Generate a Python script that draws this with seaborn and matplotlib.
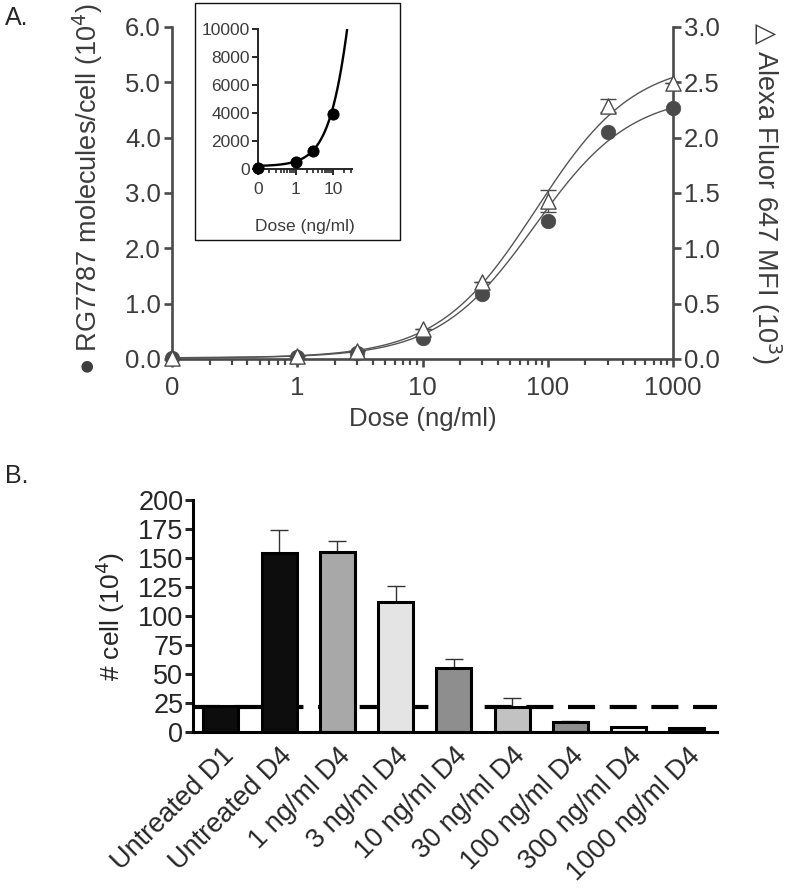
import numpy as np
import pandas as pd
import matplotlib
matplotlib.use('Agg')
import matplotlib.pyplot as plt
import seaborn as sns
from matplotlib.patches import Rectangle
from matplotlib.ticker import LogLocator, NullFormatter

# ---- panel A data ----
dose = [0.1, 1, 3, 10, 30, 100, 300, 1000]          # "0" dose drawn at 0.1 on the log axis
dose_ticks = [0.1, 1, 10, 100, 1000]
dose_labels = ['0', '1', '10', '100', '1000']
molecules = [0.02, 0.04, 0.10, 0.38, 1.17, 2.49, 4.11, 4.53]   # x10^4, filled circles
mfi = [0.01, 0.03, 0.07, 0.27, 0.70, 1.43, 2.29, 2.49]         # x10^3, open triangles
mfi_err = [0, 0, 0, 0, 0, 0.10, 0.06, 0]

# 4-parameter logistic fits: bottom, top, ec50, hill
fit_molecules = [0.02, 4.8, 79, 1.13]
fit_mfi = [0.01, 2.7, 81, 1.11]

# inset (raw molecules/cell, low doses)
inset_dose = [0.1, 1, 3, 10]
inset_molecules = [50, 480, 1300, 3900]
inset_ticks = [0.1, 1, 10]
inset_labels = ['0', '1', '10']

# ---- panel B data ----
groups = ['Untreated D1', 'Untreated D4', '1 ng/ml D4', '3 ng/ml D4', '10 ng/ml D4',
          '30 ng/ml D4', '100 ng/ml D4', '300 ng/ml D4', '1000 ng/ml D4']
cells = [22, 154, 155, 112, 55, 21, 8, 4.3, 3.2]
cells_err = [0, 20, 10, 14, 7.5, 8, 1.5, 0, 0]
bar_colors = ['#0d0d0d', '#0d0d0d', '#a8a8a8', '#e4e4e4', '#8e8e8e',
              '#c2c2c2', '#8e8e8e', '#f4f4f4', '#0d0d0d']
baseline = 21


def logistic(x, p):
    bottom, top, ec50, hill = p
    return bottom + (top - bottom) / (1 + (ec50 / x) ** hill)


sns.set_style('ticks')
plt.rcParams['font.family'] = ['Liberation Sans', 'DejaVu Sans']

fig = plt.figure(figsize=(7.87, 8.9), dpi=100)
W, H = 787, 890


def box(l, t, r, b):
    return [l / W, 1 - b / H, (r - l) / W, (b - t) / H]


grey = '#4a4a4a'
txt = '#3c3c3c'

# ---------------- panel A ----------------
ax = fig.add_axes(box(172, 27, 673, 359))
ax2 = ax.twinx()
ax.set_xscale('log')

grid = np.logspace(-1, 3, 400)
sns.lineplot(x=grid, y=logistic(grid, fit_molecules), ax=ax, color='#555555', lw=1)
sns.lineplot(x=grid, y=logistic(grid, fit_mfi), ax=ax2, color='#555555', lw=1)

sns.scatterplot(x=dose, y=molecules, ax=ax, color=grey, s=110, edgecolor=grey,
                linewidth=0.5, zorder=3, clip_on=False)
ax2.errorbar(dose, mfi, yerr=mfi_err, fmt='none', ecolor=grey, elinewidth=1,
             capsize=6, capthick=1, zorder=3)
sns.scatterplot(x=dose, y=mfi, ax=ax2, marker='^', color='white', s=120,
                edgecolor=grey, linewidth=1, zorder=4, clip_on=False)

ax.set_xlim(0.1, 1000)
ax.set_ylim(0, 6)
ax2.set_ylim(0, 3)
ax.set_xticks(dose_ticks)
ax.set_xticklabels(dose_labels)
ax.xaxis.set_minor_locator(LogLocator(base=10, subs=np.arange(2, 10)))
ax.xaxis.set_minor_formatter(NullFormatter())
ax.set_yticks(np.arange(0, 6.1, 1))
ax.set_yticklabels([f'{v:.1f}' for v in np.arange(0, 6.1, 1)])
ax2.set_yticks(np.arange(0, 3.1, 0.5))
ax2.set_yticklabels([f'{v:.1f}' for v in np.arange(0, 3.1, 0.5)])

for a in (ax, ax2):
    for s in a.spines.values():
        s.set_color(grey)
        s.set_linewidth(1.9)
    a.spines['top'].set_visible(False)
    a.tick_params(which='major', length=6, width=1.9, color=grey,
                  labelsize=18.5, labelcolor=txt, pad=2)
    a.tick_params(which='minor', length=4, width=1.6, color=grey)
ax.tick_params(axis='x', pad=6)
ax.spines['right'].set_visible(False)
ax2.spines['left'].set_visible(False)
ax2.spines['bottom'].set_visible(False)
ax.set_xlabel('Dose (ng/ml)', fontsize=18.5, color=txt, labelpad=5)
ax.set_ylabel('')
ax2.set_ylabel('')

fig.text(88 / W, 1 - 189 / H, '\u25CF RG7787 molecules/cell (10$^4$)', rotation=90,
         ha='center', va='center', fontsize=19.5, color=txt)
fig.text(766 / W, 1 - 193 / H, '$\\bigtriangleup$ Alexa Fluor 647 MFI (10$^3$)', rotation=270,
         ha='center', va='center', fontsize=19.5, color=txt)
fig.text(5 / W, 1 - 18 / H, 'A.', ha='left', va='center', fontsize=18)

# inset
fig.patches.append(Rectangle((195 / W, 1 - 240 / H), 205 / W, 237 / H, transform=fig.transFigure,
                             fill=False, edgecolor='#111111', lw=1, zorder=5))
axi = fig.add_axes(box(258, 29, 352, 169))
axi.set_xscale('log')
sns.lineplot(x=grid[grid <= 32], y=logistic(grid[grid <= 32], fit_molecules) * 1e4,
             ax=axi, color='black', lw=1.7)
sns.scatterplot(x=inset_dose, y=inset_molecules, ax=axi, color='black', s=65,
                edgecolor='black', zorder=3, clip_on=False)
axi.set_xlim(0.1, 32)
axi.set_ylim(0, 10000)
axi.set_xticks(inset_ticks)
axi.set_xticklabels(inset_labels)
axi.xaxis.set_minor_locator(LogLocator(base=10, subs=np.arange(2, 10)))
axi.xaxis.set_minor_formatter(NullFormatter())
axi.set_yticks(np.arange(0, 10001, 2000))
sns.despine(ax=axi)
for s in axi.spines.values():
    s.set_linewidth(1.4)
axi.tick_params(which='major', length=4, width=1.4, labelsize=12.5, labelcolor=txt, pad=2)
axi.tick_params(axis='x', pad=5)
axi.tick_params(which='minor', length=3, width=1.2)
axi.set_xlabel('Dose (ng/ml)', fontsize=12.5, color=txt, labelpad=16)
axi.set_ylabel('')

# ---------------- panel B ----------------
axb = fig.add_axes(box(193, 500, 717, 731.7))
df = pd.DataFrame({'group': groups, 'cells': cells})
axb.axhline(baseline, color='black', lw=3, dashes=(6.5, 3.5), zorder=0.5)
sns.barplot(data=df, x='group', y='cells', hue='group', palette=bar_colors,
            legend=False, width=0.6, edgecolor='black', linewidth=2.2, ax=axb,
            errorbar=None, zorder=2)
axb.errorbar(range(len(groups)), cells, yerr=[np.zeros(len(cells)), cells_err],
             fmt='none', ecolor='#333333', elinewidth=1, capsize=6.5, capthick=1, zorder=1)
axb.set_xlim(-0.48, 8.52)
axb.set_ylim(0, 200)
axb.set_yticks(np.arange(0, 201, 25))
sns.despine(ax=axb)
for s in axb.spines.values():
    s.set_linewidth(2.2)
    s.set_color('black')
axb.tick_params(axis='y', length=6, width=2.2, labelsize=19.5, pad=1)
axb.tick_params(axis='x', length=0, labelsize=19.5, pad=8)
plt.setp(axb.get_xticklabels(), rotation=45, ha='right', rotation_mode='anchor')
axb.set_xlabel('')
axb.set_ylabel('')
fig.text(110 / W, 1 - 616 / H, '# cell (10$^4$)', rotation=90, ha='center', va='center',
         fontsize=19)
fig.text(5 / W, 1 - 476 / H, 'B.', ha='left', va='center', fontsize=18)

fig.savefig('out.png', dpi=100)
